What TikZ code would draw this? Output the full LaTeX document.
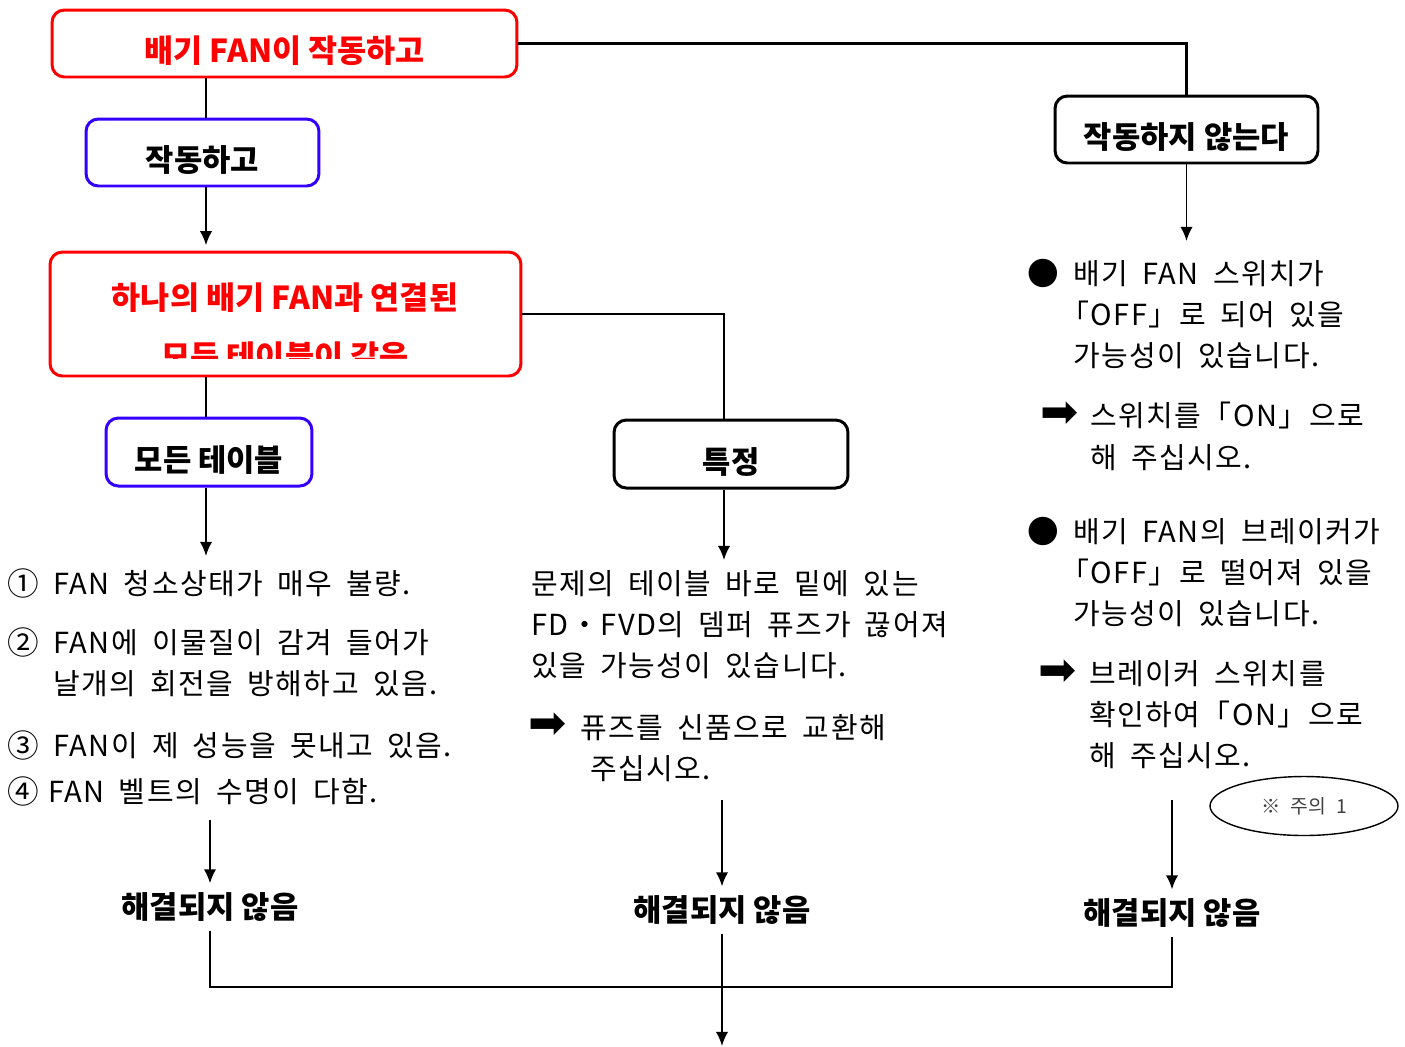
\documentclass[tikz,border=0pt]{standalone}
\usepackage{fontspec}
\setmainfont{Noto Sans CJK KR}
\newfontfamily\bodyfont[WordSpace=1.8, LetterSpace=5]{Noto Sans CJK KR}
\newfontfamily\symfont{DejaVu Sans}
\usepackage{xcolor}
\usetikzlibrary{positioning, shapes.geometric, arrows.meta}
\definecolor{fanred}{RGB}{255,0,0}
\definecolor{fanblue}{RGB}{51,0,255}

\begin{document}
\begin{tikzpicture}[
    x=0.02cm, y=-0.02cm,
    box/.style={rectangle, rounded corners=7pt, line width=1.7pt, text height=0.76cm, text depth=0cm, font=\bfseries\fontsize{17.5}{20}\selectfont},
    redbox/.style={box, draw=fanred, text=fanred, font=\bfseries\fontsize{18}{21}\selectfont},
    bluebox/.style={box, draw=fanblue},
    blackbox/.style={box, draw=black},
    redtext/.style={text=fanred, inner sep=0pt, font=\bfseries\fontsize{18}{21}\selectfont},
    body/.style={anchor=north west, inner sep=0pt, align=left, font=\bodyfont\fontsize{16.5}{23.5}\selectfont},
    dot/.style={inner sep=0pt, font=\fontsize{18}{20}\selectfont},
    sym/.style={inner sep=0pt, font=\symfont\fontsize{26}{26}\selectfont},
    result/.style={inner sep=5pt, font=\bfseries\fontsize{17.5}{20}\selectfont},
    wire/.style={line width=1.4pt},
    arr/.style={line width=1.1pt, -{Latex[length=8pt, width=7pt]}}
]
\path[fill=white, use as bounding box] (0,0) rectangle (1405,1046);

% Boxes
\node[redbox, minimum width=9.3cm, minimum height=1.34cm] (fanrun) at (284.5,43.5) {배기 FAN이 작동하고};
\node[bluebox, minimum width=4.66cm, minimum height=1.34cm] (running) at (202.5,152.5) {작동하고};
\node[redbox, minimum width=9.42cm, minimum height=2.48cm] (group) at (285.5,314) {};
\node[redtext] (groupA) at (285,298) {하나의 배기 FAN과 연결된};
\begin{scope}
    \clip (60,330) rectangle (510,358);
    \node[redtext] (groupB) at (285,357) {모든 테이블이 같음};
\end{scope}
\node[bluebox, minimum width=4.12cm, minimum height=1.36cm] (alltab) at (209,452) {모든 테이블};
\node[blackbox, minimum width=4.68cm, minimum height=1.36cm] (single) at (731,454) {특정};
\node[blackbox, minimum width=5.26cm, minimum height=1.34cm] (notrun) at (1186.5,129.5) {작동하지 않는다};

% Left column
\foreach \i/\c/\y in {1/①/583, 2/②/642, 3/③/745, 4/④/791} {
    \node[dot] (num\i) at (23,\y) {\c};
}
\node[body] (item1) at (53,570) {FAN 청소상태가 매우 불량.};
\node[body] (item2) at (53,629) {FAN에 이물질이 감겨 들어가\\날개의 회전을 방해하고 있음.};
\node[body] (item3) at (53,732) {FAN이 제 성능을 못내고 있음.};
\node[body] (item4) at (48,778) {FAN 벨트의 수명이 다함.};

% Middle column
\node[body] (cause) at (531,570) {문제의 테이블 바로 밑에 있는\\FD・FVD의 뎀퍼 퓨즈가 끊어져\\있을 가능성이 있습니다.};
\node[sym] (arrM) at (548,726) {➡};
\node[body] (fix) at (580,714) {퓨즈를 신품으로 교환해\\\hspace{0.35em}주십시오.};

% Right column
\node[dot] (dotA) at (1043,273) {●};
\node[body] (causeA) at (1073,260) {배기 FAN 스위치가\\\kern-0.45em「OFF」로 되어 있을\\가능성이 있습니다.};
\node[sym] (arrA) at (1060,415) {➡};
\node[body] (fixA) at (1090,402) {스위치를「ON」으로\\해 주십시오.};
\node[dot] (dotB) at (1043,531) {●};
\node[body] (causeB) at (1073,518) {배기 FAN의 브레이커가\\\kern-0.45em「OFF」로 떨어져 있을\\가능성이 있습니다.};
\node[sym] (arrB) at (1058,673) {➡};
\node[body] (fixB) at (1089,660) {브레이커 스위치를\\확인하여「ON」으로\\해 주십시오.};
\node[ellipse, draw, line width=0.8pt, minimum width=3.76cm, minimum height=1.18cm, text=darkgray, font=\bodyfont\fontsize{11}{13}\selectfont] (note) at (1304,806) {※ 주의 1};

% Results
\foreach \n/\x/\y in {1/210/907, 2/722/910, 3/1172/913} {
    \node[result] (nr\n) at (\x,\y) {해결되지 않음};
}

% Free ends
\coordinate (trunk) at (206,0);
\coordinate (midcol) at (724,0);
\coordinate (endL) at (206,556);
\coordinate (endM) at (724,560);
\coordinate (endR) at (1186.5,241);
\coordinate (fromL) at (210,820);
\coordinate (fromM) at (722,800);
\coordinate (fromR) at (1172,800);
\coordinate (bus) at (0,987);
\coordinate (exit) at (722,1046);

% Connectors
\draw[wire] (fanrun.south -| trunk) -- (running.north -| trunk);
\draw[arr, shorten >=3pt] (running.south -| trunk) -- (group.north -| trunk);
\draw[wire] (group.south -| trunk) -- (alltab.north -| trunk);
\draw[arr] (alltab.south -| trunk) -- (endL);
\draw[wire] (fanrun.east) -| (notrun.north);
\draw[arr] (notrun.south) -- (endR);
\draw[wire] (group.east) -| (single.north -| midcol);
\draw[arr] (single.south -| midcol) -- (endM);
\draw[arr] (fromL) -- (nr1.north);
\draw[arr] (fromM) -- (nr2.north);
\draw[arr] (fromR) -- (nr3.north);
\draw[wire] (nr1.south) -- (nr1.south |- bus) -- (nr3.south |- bus) -- (nr3.south);
\draw[arr] (nr2.south) -- (exit);

\end{tikzpicture}
\end{document}
